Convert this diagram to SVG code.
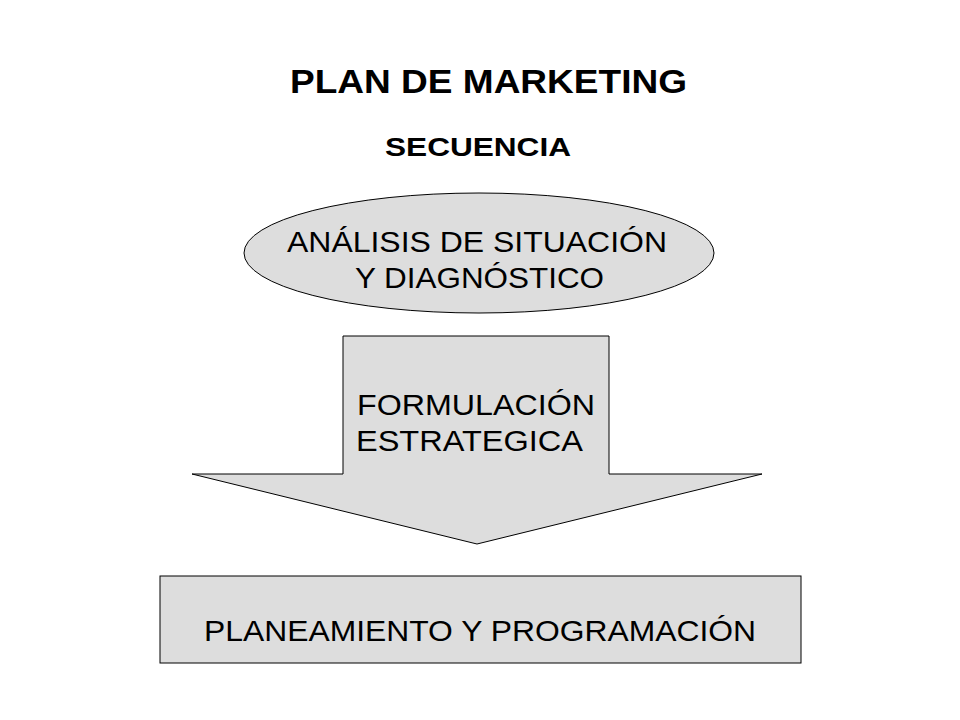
<svg xmlns="http://www.w3.org/2000/svg" width="960" height="720" viewBox="0 0 960 720">
<style>
.t{font-family:"Liberation Sans",Arial,sans-serif;fill:#000}
.s{fill:#dddddd;stroke:#000;stroke-width:1}
</style>
<rect width="960" height="720" fill="#fff"/>
<text class="t" x="290" y="93" font-size="33" font-weight="bold" textLength="397" lengthAdjust="spacingAndGlyphs">PLAN DE MARKETING</text>
<text class="t" x="385" y="156" font-size="26" font-weight="bold" textLength="186" lengthAdjust="spacingAndGlyphs">SECUENCIA</text>
<g id="analisis">
<ellipse class="s" cx="479" cy="253" rx="235" ry="60"/>
<text class="t" x="287" y="252" font-size="29" textLength="380" lengthAdjust="spacingAndGlyphs">ANÁLISIS DE SITUACIÓN</text>
<text class="t" x="355" y="288" font-size="29" textLength="249" lengthAdjust="spacingAndGlyphs">Y DIAGNÓSTICO</text>
</g>
<g id="formulacion">
<polygon class="s" points="343,336 609,336 609,474 762,474 477,544 192,474 343,474"/>
<text class="t" x="357" y="415" font-size="29" textLength="238" lengthAdjust="spacingAndGlyphs">FORMULACIÓN</text>
<text class="t" x="356" y="451" font-size="29" textLength="227" lengthAdjust="spacingAndGlyphs">ESTRATEGICA</text>
</g>
<g id="planeamiento">
<rect class="s" x="160" y="576" width="641" height="87"/>
<text class="t" x="204" y="641" font-size="29" textLength="552" lengthAdjust="spacingAndGlyphs">PLANEAMIENTO Y PROGRAMACIÓN</text>
</g>
<g id="connectors"></g>
</svg>
